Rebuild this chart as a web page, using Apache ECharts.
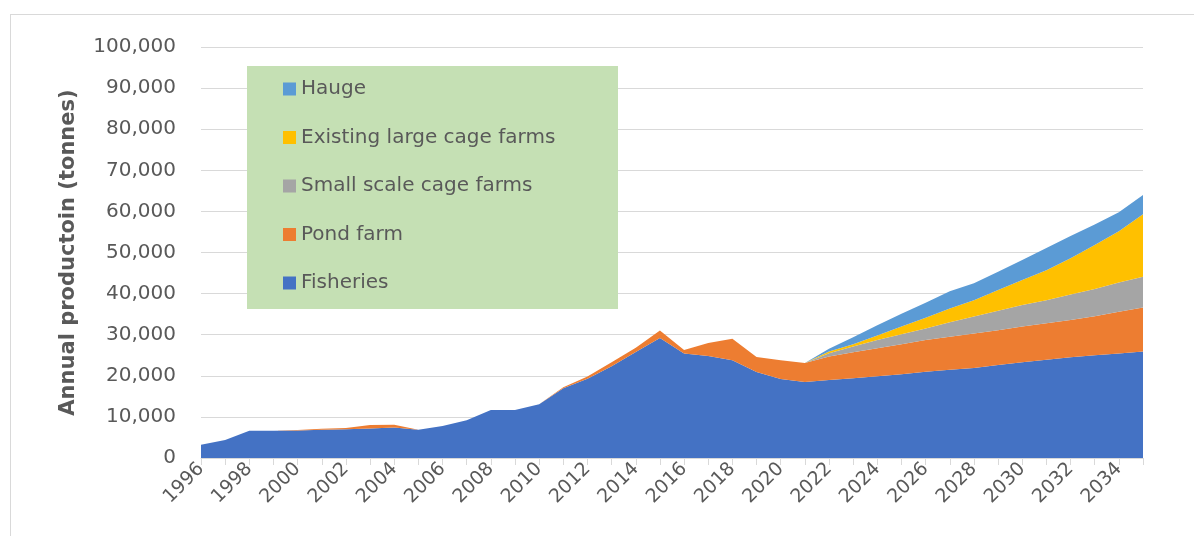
<!DOCTYPE html>
<html>
<head>
<meta charset="utf-8">
<script src="https://cdn.jsdelivr.net/npm/echarts@6/dist/echarts.min.js"></script>
<style>
  html, body { margin: 0; padding: 0; background: #fff; }
  #frame {
    position: absolute; left: 10px; top: 14px; width: 1200px; height: 540px;
    border-left: 1px solid #d9d9d9; border-top: 1px solid #d9d9d9;
  }
  #chart { position: absolute; left: 0; top: 0; width: 1194px; height: 536px; }
</style>
</head>
<body>
<div id="frame"></div>
<div id="chart"></div>
<script>
// years on the category axis
const years = [
  '1996', '1997', '1998', '1999', '2000', '2001', '2002', '2003', '2004', '2005',
  '2006', '2007', '2008', '2009', '2010', '2011', '2012', '2013', '2014', '2015',
  '2016', '2017', '2018', '2019', '2020', '2021', '2022', '2023', '2024', '2025',
  '2026', '2027', '2028', '2029', '2030', '2031', '2032', '2033', '2034', '2035'
]

// annual production, tonnes
const fisheries = [
  3200, 4400, 6600, 6600, 6700, 6900, 7000, 7200, 7400, 6900,
  7800, 9200, 11700, 11700, 13100, 17000, 19300, 22300, 25800, 29200,
  25400, 24800, 23800, 20900, 19200, 18500, 19000, 19400, 19900, 20400,
  21000, 21500, 21900, 22600, 23300, 23900, 24500, 25000, 25400, 25900
]
const pondFarm = [
  0, 0, 0, 0, 100, 200, 300, 800, 700, 0,
  0, 0, 0, 0, 0, 200, 500, 1000, 1000, 1800,
  900, 3200, 5200, 3700, 4600, 4600, 5700, 6300, 6800, 7300,
  7700, 8000, 8400, 8500, 8700, 8900, 9100, 9500, 10200, 10700
]
const smallScale = [
  0, 0, 0, 0, 0, 0, 0, 0, 0, 0,
  0, 0, 0, 0, 0, 0, 0, 0, 0, 0,
  0, 0, 0, 0, 0, 0, 800, 1400, 2000, 2400,
  2800, 3500, 4100, 4700, 5200, 5600, 6200, 6600, 7100, 7500
]
const existingLarge = [
  0, 0, 0, 0, 0, 0, 0, 0, 0, 0,
  0, 0, 0, 0, 0, 0, 0, 0, 0, 0,
  0, 0, 0, 0, 0, 0, 400, 600, 1100, 1900,
  2600, 3400, 4000, 5100, 6100, 7300, 8800, 10700, 12500, 15200
]
const hauge = [
  0, 0, 0, 0, 0, 0, 0, 0, 0, 0,
  0, 0, 0, 0, 0, 0, 0, 0, 0, 0,
  0, 0, 0, 0, 0, 0, 700, 1700, 2500, 3100,
  3700, 4200, 4100, 4400, 4900, 5400, 5400, 5000, 4600, 4700
]

const textColor = '#595959'
const fontName = 'DejaVu Sans'

function areaSeries(name, data, color) {
  return {
    name: name,
    type: 'line',
    stack: 'total',
    data: data,
    showSymbol: false,
    symbol: 'none',
    lineStyle: { width: 0 },
    areaStyle: { color: color, opacity: 1 },
    itemStyle: { color: color },
    emphasis: { disabled: true }
  }
}

const chart = echarts.init(document.getElementById('chart'))

const option = {
  animation: false,
  textStyle: { fontFamily: fontName },
  grid: { left: 201, right: 51, top: 47, bottom: 78 },
  graphic: [
    {
      type: 'rect',
      z: 5,
      shape: { x: 247, y: 66, width: 371, height: 243 },
      style: { fill: '#c5e0b4' }
    }
  ],
  legend: {
    z: 10,
    orient: 'vertical',
    left: 278,
    top: 73,
    itemWidth: 13,
    itemHeight: 13,
    itemGap: 26.5,
    icon: 'rect',
    data: ['Hauge', 'Existing large cage farms', 'Small scale cage farms', 'Pond farm', 'Fisheries'],
    textStyle: { color: textColor, fontSize: 20, fontFamily: fontName, lineHeight: 22 }
  },
  xAxis: {
    type: 'category',
    data: years,
    boundaryGap: false,
    axisLine: { lineStyle: { color: '#d9d9d9', width: 1 } },
    axisTick: { show: true, interval: 0, length: 7, lineStyle: { color: '#d9d9d9' } },
    axisLabel: {
      interval: 1,
      rotate: 45,
      margin: 8,
      color: textColor,
      fontSize: 19,
      fontFamily: fontName
    },
    splitLine: { show: false }
  },
  yAxis: {
    type: 'value',
    min: 0,
    max: 100000,
    interval: 10000,
    name: 'Annual productoin (tonnes)',
    nameLocation: 'middle',
    nameGap: 122,
    nameRotate: 90,
    nameTextStyle: { color: textColor, fontSize: 21, fontWeight: 'bold', fontFamily: fontName },
    axisLine: { show: false },
    axisTick: { show: false },
    axisLabel: {
      margin: 25,
      color: textColor,
      fontSize: 20,
      fontFamily: fontName,
      formatter: function (v) { return v.toLocaleString('en-US') }
    },
    splitLine: { lineStyle: { color: '#d9d9d9', width: 1 } }
  },
  series: [
    areaSeries('Fisheries', fisheries, '#4472c4'),
    areaSeries('Pond farm', pondFarm, '#ed7d31'),
    areaSeries('Small scale cage farms', smallScale, '#a5a5a5'),
    areaSeries('Existing large cage farms', existingLarge, '#ffc000'),
    areaSeries('Hauge', hauge, '#5b9bd5')
  ]
}

chart.setOption(option)
</script>
</body>
</html>
